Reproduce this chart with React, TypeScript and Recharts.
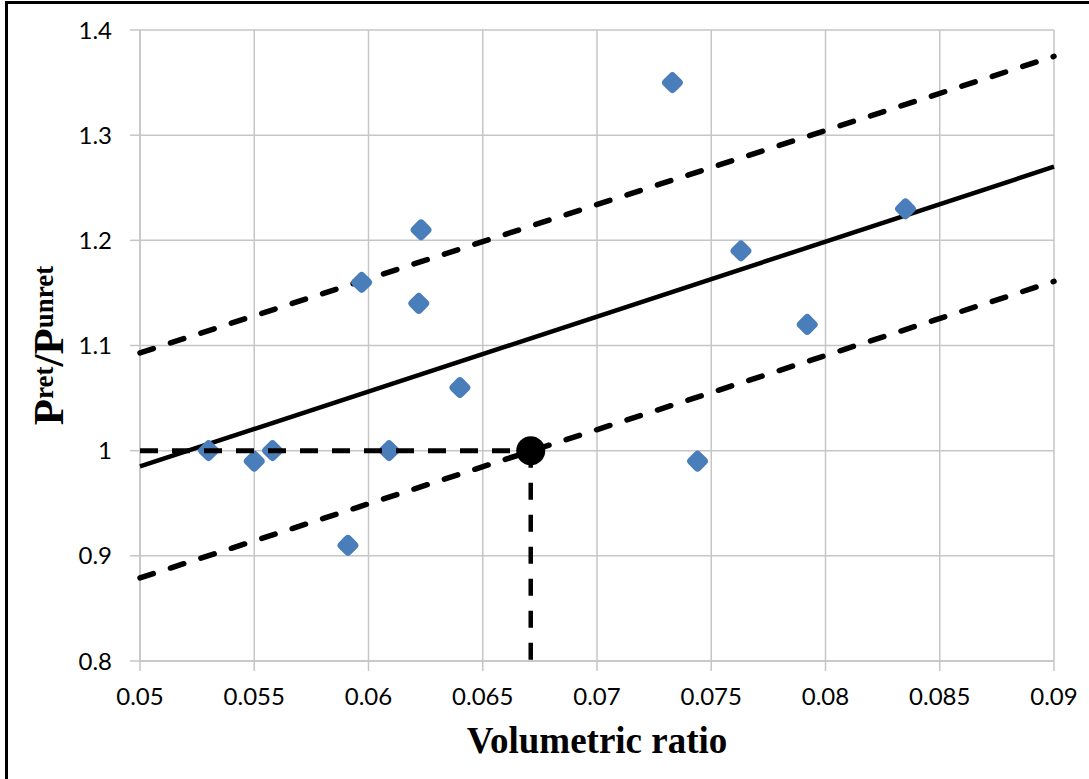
import React from 'react';
import { ScatterChart, Scatter, XAxis, YAxis, CartesianGrid } from 'recharts';

// measured points
const volRatio = [0.053, 0.055, 0.0558, 0.0591, 0.0597, 0.0609, 0.0623, 0.0622, 0.064, 0.0733, 0.0744, 0.0763, 0.0792, 0.0835];
const pressureRatio = [1.0, 0.99, 1.0, 0.91, 1.16, 1.0, 1.21, 1.14, 1.06, 1.35, 0.99, 1.19, 1.12, 1.23];

// regression line and bounds (ends at x = 0.05 and 0.09)
const lineX = [0.05, 0.09];
const fitY = [0.985, 1.27];
const upperY = [1.093, 1.375];
const lowerY = [0.879, 1.161];

// design point and guide lines
const designX = 0.0671;
const designY = 1.0;
const guideX = [0.05, designX, designX];
const guideY = [designY, designY, 0.8];

const xTicks = [0.05, 0.055, 0.06, 0.065, 0.07, 0.075, 0.08, 0.085, 0.09];
const yTicks = [0.8, 0.9, 1, 1.1, 1.2, 1.3, 1.4];

const GRID = '#c6c6c6';
const MARKER = '#4a7ebb';

const points = volRatio.map((x, i) => ({ x, y: pressureRatio[i] }));
const toLine = (ys: number[]) => lineX.map((x, i) => ({ x, y: ys[i] }));
const hGuide = guideX.slice(0, 2).map((x, i) => ({ x, y: guideY[i] }));
const vGuide = guideX.slice(1).map((x, i) => ({ x, y: guideY[i + 1] }));

const NoShape = () => <g />;

const Diamond = (props: any) => {
  const { cx, cy } = props;
  return (
    <rect
      x={cx - 8.5}
      y={cy - 8.5}
      width={17}
      height={17}
      rx={4}
      fill={MARKER}
      transform={`rotate(45 ${cx} ${cy})`}
    />
  );
};

const BigDot = (props: any) => <circle cx={props.cx} cy={props.cy} r={14.5} fill="#000" />;

const tickStyle = { fill: '#000', fontSize: 24, fontFamily: 'Lato, sans-serif' };

const lineSeries = (data: any[], width: number, dash?: string, cap?: 'round' | 'butt') => (
  <Scatter
    data={data}
    shape={NoShape}
    fill="#000"
    stroke="#000"
    strokeWidth={width}
    strokeDasharray={dash}
    strokeLinecap={cap}
    line={{ stroke: '#000', strokeWidth: width, strokeDasharray: dash, strokeLinecap: cap }}
    isAnimationActive={false}
  />
);

export default function App() {
  return (
    <div style={{ position: 'absolute', left: 0, top: 0, width: 1089, height: 779, background: '#fff' }}>
      <div
        style={{
          position: 'absolute',
          left: 5,
          top: 1,
          width: 1084,
          height: 778,
          boxSizing: 'border-box',
          borderLeft: '3px solid #000',
          borderTop: '3px solid #000',
        }}
      />
      <div style={{ position: 'absolute', left: 0, top: 0 }}>
        <ScatterChart width={1089} height={779} margin={{ top: 30, right: 35, left: 0, bottom: 0 }}>
          <CartesianGrid stroke={GRID} strokeWidth={1.5} />
          <XAxis
            type="number"
            dataKey="x"
            domain={[0.05, 0.09]}
            ticks={xTicks}
            height={118}
            tickSize={10}
            tickMargin={17}
            tick={tickStyle}
            axisLine={{ stroke: GRID, strokeWidth: 1.5 }}
            tickLine={{ stroke: GRID, strokeWidth: 1.5 }}
            label={{
              content: ({ viewBox }: any) => (
                <text
                  x={viewBox.x + viewBox.width / 2}
                  y={viewBox.y + 92}
                  textAnchor="middle"
                  fontFamily="'Liberation Serif', 'Times New Roman', serif"
                  fontWeight="bold"
                  fontSize={37}
                  fill="#000"
                >
                  Volumetric ratio
                </text>
              ),
            }}
          />
          <YAxis
            type="number"
            dataKey="y"
            domain={[0.8, 1.4]}
            ticks={yTicks}
            width={140}
            tickSize={10}
            tickMargin={18}
            tick={tickStyle}
            axisLine={{ stroke: GRID, strokeWidth: 1.5 }}
            tickLine={{ stroke: GRID, strokeWidth: 1.5 }}
            label={{
              content: ({ viewBox }: any) => (
                <text
                  transform={`translate(63, ${viewBox.y + viewBox.height / 2}) rotate(-90)`}
                  textAnchor="middle"
                  fontFamily="'Liberation Serif', 'Times New Roman', serif"
                  fontWeight="bold"
                  fill="#000"
                  fontSize={43}
                >
                  P
                  <tspan fontSize={27} dy={-10}>ret</tspan>
                  <tspan fontSize={43} dy={10}>/P</tspan>
                  <tspan fontSize={27} dy={-10}>unret</tspan>
                </text>
              ),
            }}
          />
          {lineSeries(toLine(fitY), 4.5)}
          {lineSeries(toLine(upperY), 5.5, '14 18', 'round')}
          {lineSeries(toLine(lowerY), 5.5, '14 18', 'round')}
          <Scatter data={points} shape={Diamond} isAnimationActive={false} />
          {lineSeries(hGuide, 5, '18 14', 'butt')}
          {lineSeries(vGuide, 4.5, '17 15', 'butt')}
          <Scatter data={[{ x: designX, y: designY }]} shape={BigDot} isAnimationActive={false} />
        </ScatterChart>
      </div>
    </div>
  );
}
